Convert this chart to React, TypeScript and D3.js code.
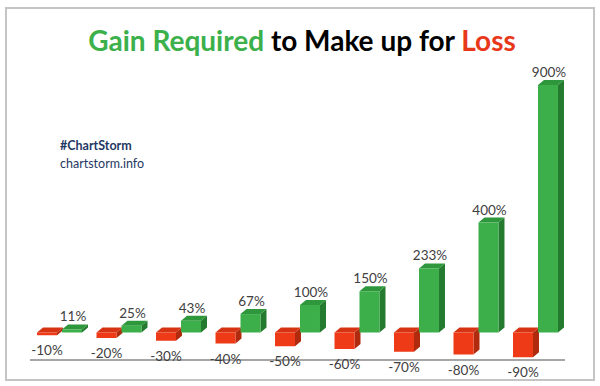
import { scaleBand, scaleLinear } from 'd3'

// 3D-look clustered columns: loss (red, below zero) beside required gain (green).

const losses = [-10, -20, -30, -40, -50, -60, -70, -80, -90]
const gains = [11, 25, 43, 67, 100, 150, 233, 400, 900]
const lossLabels = ['-10%', '-20%', '-30%', '-40%', '-50%', '-60%', '-70%', '-80%', '-90%']
const gainLabels = ['11%', '25%', '43%', '67%', '100%', '150%', '233%', '400%', '900%']
const series = ['loss', 'gain']

const W = 600
const H = 386
const DX = 6
const DY = -5
const FONT = 'Lato, "Open Sans", sans-serif'
const LABEL = '#404040'

const FACES = {
  loss: { front: '#ee3a16', side: '#b02a0e', top: '#d63312' },
  gain: { front: '#3daf4a', side: '#247a2f', top: '#2e963b' },
}

function Box({ x, w, y0, y1, c }: { x: number; w: number; y0: number; y1: number; c: typeof FACES.loss }) {
  const top = Math.min(y0, y1)
  const bot = Math.max(y0, y1)
  const topFace = `${x},${top} ${x + w},${top} ${x + w + DX},${top + DY} ${x + DX},${top + DY}`
  const side = `${x + w},${top} ${x + w + DX},${top + DY} ${x + w + DX},${bot + DY} ${x + w},${bot}`
  return (
    <g>
      <polygon points={side} fill={c.side} />
      <polygon points={topFace} fill={c.top} />
      <rect x={x} y={top} width={w} height={bot - top} fill={c.front} />
    </g>
  )
}

export default function App() {
  const x = scaleBand<string>()
    .domain(lossLabels)
    .range([30, 565])
    .paddingInner(0.244)
    .paddingOuter(0.118)
  const sub = scaleBand<string>().domain(series).range([0, x.bandwidth()]).paddingInner(0.2)
  const y = scaleLinear().domain([-100, 900]).range([360, 85])
  const bw = sub.bandwidth()

  return (
    <svg
      width={W}
      height={H}
      viewBox={`0 0 ${W} ${H}`}
      style={{ position: 'absolute', left: 0, top: 0, background: '#fff' }}
      fontFamily={FONT}
    >
      <rect x={6} y={8} width={588} height={372} fill="#fff" stroke="#c4c4c4" strokeWidth={2} />

      <text x={302} y={51} textAnchor="middle" fontSize={28} fontWeight={700}>
        <tspan fill="#3cb04a">Gain Required</tspan>
        <tspan fill="#000"> to Make up for </tspan>
        <tspan fill="#e8381a">Loss</tspan>
      </text>

      <text x={60} y={150} fontSize={12.5} fontWeight={700} fill="#1f3864">
        #ChartStorm
      </text>
      <text x={60} y={168} fontSize={12.5} fill="#1f3864">
        chartstorm.info
      </text>

      <line x1={30} x2={565} y1={y(-100)} y2={y(-100)} stroke="#a6a6a6" strokeWidth={2} />

      {lossLabels.map((cat, i) => {
        const bx = x(cat) ?? 0
        const lx = bx + (sub('loss') ?? 0)
        const gx = bx + (sub('gain') ?? 0)
        return (
          <g key={cat}>
            <Box x={lx} w={bw} y0={y(0)} y1={y(losses[i])} c={FACES.loss} />
            <Box x={gx} w={bw} y0={y(0)} y1={y(gains[i])} c={FACES.gain} />
            <text x={lx + bw / 2} y={y(losses[i]) + 20} textAnchor="middle" fontSize={13.5} fill={LABEL}>
              {lossLabels[i]}
            </text>
            <text x={gx + bw / 2 + 1} y={y(gains[i]) - 8} textAnchor="middle" fontSize={13.5} fill={LABEL}>
              {gainLabels[i]}
            </text>
          </g>
        )
      })}
    </svg>
  )
}
